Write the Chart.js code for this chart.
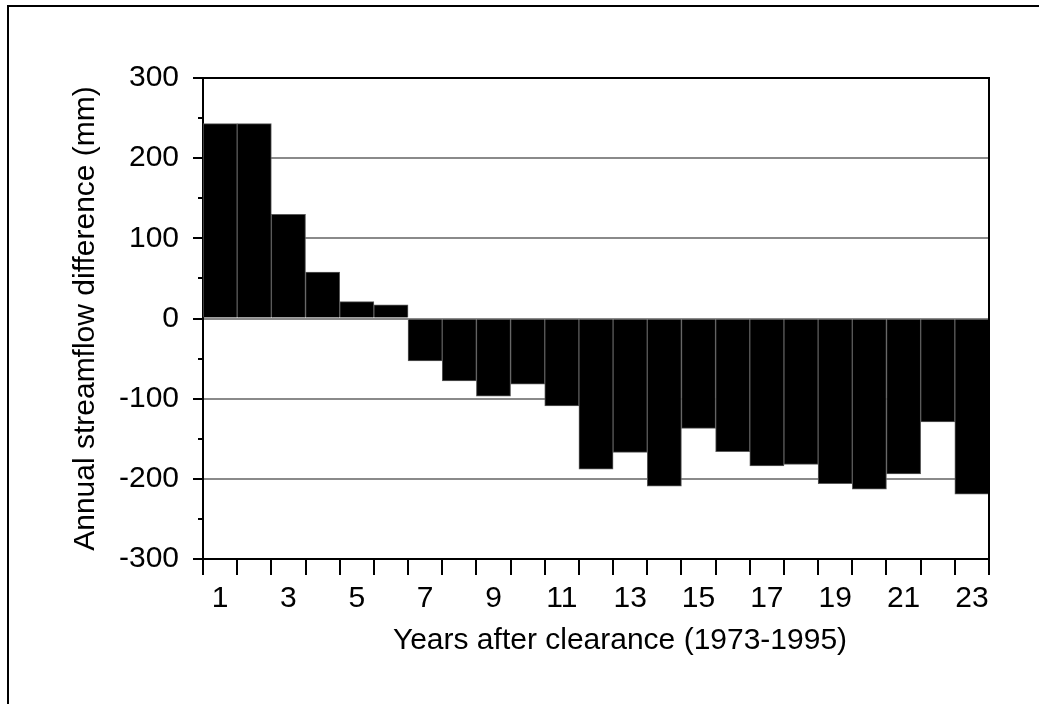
<!DOCTYPE html>
<html>
<head>
<meta charset="utf-8">
<script src="https://cdn.jsdelivr.net/npm/chart.js@4.4.1/dist/chart.umd.min.js"></script>
<style>
    html, body { margin: 0; padding: 0; background: #fff; overflow: hidden; }
    #wrap { position: relative; width: 1039px; height: 704px; }
    #frame { position: absolute; left: 7px; top: 5px; right: -10px; bottom: -10px;
             border-top: 2px solid #000; border-left: 2px solid #000; pointer-events: none; }
    canvas { position: absolute; left: 0; top: 0; }
</style>
</head>
<body>
<div id="wrap">
    <canvas id="flowChart" width="1039" height="704"></canvas>
    <div id="frame"></div>
</div>
<script>
// years after clearance, 1973-1995
const years = ['1','2','3','4','5','6','7','8','9','10','11','12','13','14','15','16','17','18','19','20','21','22','23'];
// annual streamflow difference (mm)
const flowDiff = [243, 243, 130, 58, 21, 17, -53, -78, -97, -82, -109, -188, -167, -209,
                  -137, -166, -184, -182, -206, -213, -194, -129, -219];
const yTicks = [-300, -200, -100, 0, 100, 200, 300];
const yMinorTicks = [-250, -150, -50, 50, 150, 250];
const xTitle = 'Years after clearance (1973-1995)';

const FONT = { family: '"Liberation Sans", Arial, sans-serif', size: 30 };

// minor ticks on the y axis, box around the plot, x axis title
const plotFrame = {
    id: 'plotFrame',
    afterDatasetsDraw(chart) {
        const { ctx, chartArea: a, scales: { y } } = chart;
        ctx.save();
        ctx.strokeStyle = '#000';
        ctx.lineWidth = 2;
        ctx.beginPath();
        ctx.moveTo(a.left, a.top);
        ctx.lineTo(a.right, a.top);
        ctx.lineTo(a.right, a.bottom);
        ctx.stroke();
        ctx.beginPath();
        yMinorTicks.forEach(v => {
            const py = Math.round(y.getPixelForValue(v));
            ctx.moveTo(a.left - 5, py);
            ctx.lineTo(a.left, py);
        });
        ctx.stroke();
        ctx.restore();
    },
    afterDraw(chart) {
        const { ctx, chartArea: a } = chart;
        ctx.save();
        ctx.fillStyle = '#000';
        ctx.font = `${FONT.size}px ${FONT.family}`;
        ctx.textAlign = 'center';
        ctx.textBaseline = 'middle';
        // title sits a little right of the plot centre
        ctx.fillText(xTitle, (a.left + a.right) / 2 + 24, a.bottom + 82);
        ctx.restore();
    }
};

new Chart(document.getElementById('flowChart'), {
    type: 'bar',
    data: {
        labels: years,
        datasets: [{
            data: flowDiff,
            backgroundColor: '#000',
            borderColor: '#5a5a5a',
            borderWidth: 1,
            categoryPercentage: 1,
            barPercentage: 1
        }]
    },
    options: {
        responsive: false,
        animation: false,
        layout: { padding: { left: 30, right: 50, top: 78, bottom: 48 } },
        plugins: { legend: { display: false }, tooltip: { enabled: false } },
        scales: {
            x: {
                afterFit(scale) { scale.height = 97; },
                grid: { offset: true, drawOnChartArea: false, tickLength: 16, tickColor: '#000', lineWidth: 2 },
                border: { color: '#000', width: 2 },
                ticks: {
                    color: '#000', font: FONT, padding: 6,
                    autoSkip: false, maxRotation: 0,
                    callback: (v, i) => (i % 2 === 0 ? years[i] : '')
                }
            },
            y: {
                min: -300, max: 300,
                afterFit(scale) { scale.width = 173; },
                afterBuildTicks(scale) { scale.ticks = yTicks.map(v => ({ value: v })); },
                grid: {
                    color: ctx => (Math.abs(ctx.tick.value) === 300 ? 'rgba(0,0,0,0)' : '#8a8a8a'),
                    lineWidth: 2, tickLength: 10, tickColor: '#000', tickWidth: 2
                },
                border: { color: '#000', width: 2 },
                ticks: { color: '#000', font: FONT, padding: 14 },
                title: {
                    display: true, text: 'Annual streamflow difference (mm)',
                    color: '#000', font: FONT, padding: { top: 38, bottom: 0 }
                }
            }
        }
    },
    plugins: [plotFrame]
});
</script>
</body>
</html>
